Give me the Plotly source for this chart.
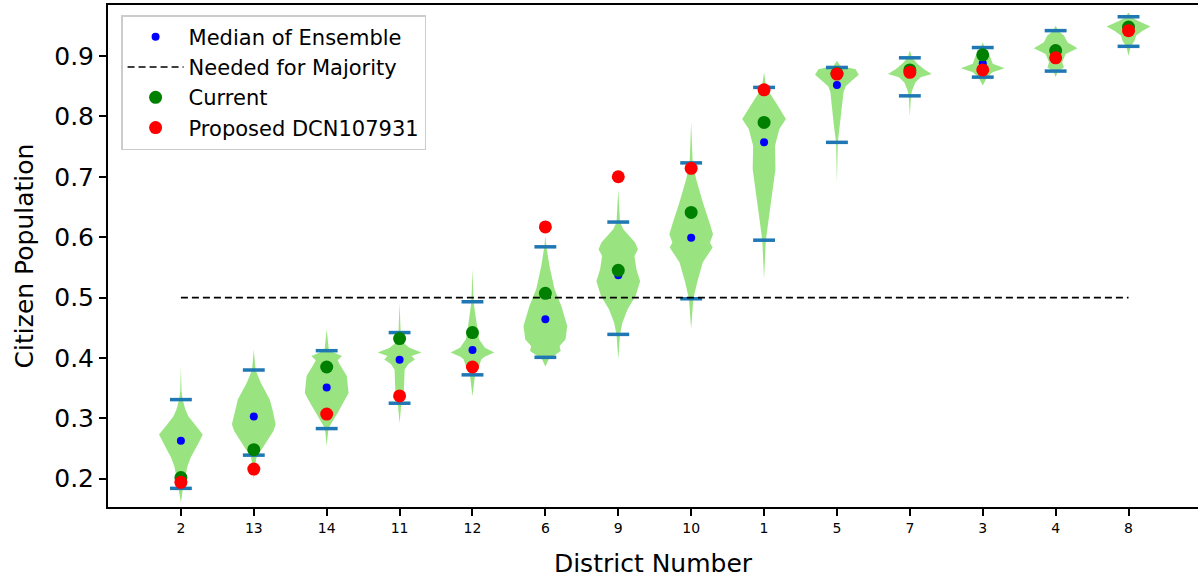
import plotly.graph_objects as go

# ---------------- data ----------------
districts = ["2", "13", "14", "11", "12", "6", "9", "10", "1", "5", "7", "3", "4", "8"]

median_ensemble = [0.263, 0.303, 0.351, 0.397, 0.413, 0.464, 0.537, 0.599, 0.757, 0.852, 0.874, 0.888, 0.910, 0.946]
current = [0.202, 0.248, 0.385, 0.432, 0.442, 0.507, 0.545, 0.641, 0.790, 0.871, 0.877, 0.902, 0.909, 0.948]
proposed = [0.194, 0.216, 0.307, 0.337, 0.385, 0.617, 0.700, 0.714, 0.844, 0.870, 0.873, 0.877, 0.897, 0.942]
ensemble_max = [0.331, 0.380, 0.412, 0.442, 0.493, 0.584, 0.625, 0.723, 0.848, 0.881, 0.897, 0.914, 0.942, 0.965]
ensemble_min = [0.184, 0.239, 0.283, 0.325, 0.372, 0.401, 0.439, 0.498, 0.595, 0.757, 0.834, 0.865, 0.875, 0.916]
majority_level = 0.5

# violin profiles (value levels and relative density, max = 1)
violin_levels = [
    [0.386, 0.345, 0.331, 0.315, 0.3035, 0.29, 0.273, 0.26, 0.248, 0.235, 0.2206, 0.1985, 0.183, 0.16],
    [0.414, 0.38, 0.359, 0.331, 0.312, 0.29, 0.279, 0.265, 0.248, 0.24, 0.22, 0.198],
    [0.447, 0.4125, 0.403, 0.396, 0.389, 0.37, 0.342, 0.326, 0.309, 0.2925, 0.283, 0.254],
    [0.4915, 0.442, 0.425, 0.417, 0.409, 0.403, 0.3975, 0.390, 0.381, 0.37, 0.348, 0.324, 0.292],
    [0.547, 0.4925, 0.475, 0.453, 0.431, 0.417, 0.409, 0.402, 0.3975, 0.386, 0.3726, 0.3367],
    [0.602, 0.584, 0.552, 0.5136, 0.486, 0.4527, 0.4307, 0.4196, 0.4113, 0.404, 0.3975, 0.386],
    [0.6794, 0.6247, 0.613, 0.591, 0.58, 0.569, 0.547, 0.527, 0.5025, 0.48, 0.4584, 0.439, 0.3975],
    [0.79, 0.7226, 0.696, 0.657, 0.624, 0.605, 0.591, 0.583, 0.558, 0.5247, 0.498, 0.4473],
    [0.873, 0.8475, 0.823, 0.7955, 0.779, 0.7513, 0.7126, 0.674, 0.635, 0.5944, 0.53],
    [0.892, 0.884, 0.878, 0.869, 0.86, 0.85, 0.84, 0.812, 0.7844, 0.757, 0.69],
    [0.909, 0.897, 0.887, 0.878, 0.870, 0.8647, 0.856, 0.8425, 0.834, 0.80],
    [0.9227, 0.913, 0.9005, 0.887, 0.8796, 0.873, 0.865, 0.851],
    [0.950, 0.9415, 0.934, 0.9227, 0.9128, 0.9033, 0.8895, 0.881, 0.8746, 0.865],
    [0.972, 0.964, 0.9585, 0.949, 0.942, 0.934, 0.925, 0.9155, 0.9005],
]
violin_density = [
    [0, 0.03, 0.08, 0.2, 0.34, 0.62, 1.0, 0.82, 0.64, 0.45, 0.3, 0.18, 0.09, 0],
    [0, 0.08, 0.32, 0.73, 0.87, 1.0, 0.9, 0.65, 0.35, 0.15, 0.05, 0],
    [0, 0.1, 0.7, 0.5, 0.6, 0.92, 1.0, 0.77, 0.5, 0.23, 0.08, 0],
    [0, 0.05, 0.17, 0.45, 1.0, 0.55, 0.7, 0.4, 0.23, 0.22, 0.2, 0.08, 0],
    [0, 0.05, 0.12, 0.2, 0.3, 0.57, 1.0, 0.55, 0.4, 0.3, 0.12, 0],
    [0, 0.05, 0.19, 0.42, 0.73, 1.0, 0.92, 0.65, 0.7, 0.4, 0.15, 0],
    [0, 0.08, 0.23, 0.77, 0.9, 0.74, 0.83, 1.0, 0.79, 0.42, 0.19, 0.08, 0],
    [0, 0.07, 0.23, 0.54, 0.84, 1.0, 0.86, 0.98, 0.53, 0.27, 0.1, 0],
    [0, 0.1, 0.54, 1.0, 0.7, 0.5, 0.52, 0.38, 0.23, 0.08, 0],
    [0, 0.15, 0.85, 1.0, 0.7, 0.4, 0.3, 0.21, 0.14, 0.04, 0],
    [0, 0.1, 0.35, 0.65, 1.0, 0.5, 0.25, 0.1, 0.05, 0],
    [0, 0.1, 0.32, 0.46, 1.0, 0.45, 0.2, 0],
    [0, 0.12, 0.38, 0.54, 1.0, 0.46, 0.3, 0.38, 0.1, 0],
    [0, 0.15, 0.42, 1.0, 0.65, 0.35, 0.27, 0.1, 0],
]

# ---------------- styling ----------------
positions = list(range(1, len(districts) + 1))
VIOLIN_HALF = 0.3
BAR_HALF = 0.15
FONT = "DejaVu Sans"
VIOLIN_COLOR = "rgb(153,228,128)"

fig = go.Figure()

# violins
for pos, levels, dens in zip(positions, violin_levels, violin_density):
    xs = [pos + VIOLIN_HALF * d for d in dens] + [pos - VIOLIN_HALF * d for d in reversed(dens)]
    ys = list(levels) + list(reversed(levels))
    fig.add_trace(go.Scatter(
        x=xs, y=ys, mode="lines", fill="toself",
        fillcolor=VIOLIN_COLOR, line=dict(width=0, color=VIOLIN_COLOR),
        hoverinfo="skip", showlegend=False,
    ))

# extrema bars
def bar_xy(vals):
    bx, by = [], []
    for p, v in zip(positions, vals):
        bx += [p - BAR_HALF, p + BAR_HALF, None]
        by += [v, v, None]
    return bx, by

for vals in (ensemble_max, ensemble_min):
    bx, by = bar_xy(vals)
    fig.add_trace(go.Scatter(x=bx, y=by, mode="lines",
                             line=dict(color="#1f77b4", width=3.5),
                             hoverinfo="skip", showlegend=False))

# median of ensemble
fig.add_trace(go.Scatter(
    x=positions, y=median_ensemble, mode="markers", name="Median of Ensemble",
    marker=dict(color="blue", size=8),
))
# majority line
fig.add_trace(go.Scatter(
    x=[positions[0], positions[-1]], y=[majority_level, majority_level], mode="lines",
    name="Needed for Majority", line=dict(color="black", width=1.7, dash="7px,4px"),
))
# current
fig.add_trace(go.Scatter(
    x=positions, y=current, mode="markers", name="Current",
    marker=dict(color="green", size=13),
))
# proposed
fig.add_trace(go.Scatter(
    x=positions, y=proposed, mode="markers", name="Proposed DCN107931",
    marker=dict(color="red", size=13),
))

fig.update_layout(
    width=1198, height=582,
    margin=dict(l=108, r=0, t=5, b=75),
    paper_bgcolor="white", plot_bgcolor="white",
    font=dict(family=FONT, color="black"),
    legend=dict(
        x=0.012, y=0.98, xanchor="left", yanchor="top",
        bgcolor="rgba(255,255,255,0.8)", bordercolor="#cccccc", borderwidth=1.5,
        font=dict(size=21, family=FONT), itemwidth=56,
    ),
    showlegend=True,
)
fig.update_xaxes(
    range=[0, 14.953], tickvals=positions, ticktext=districts,
    showgrid=False, zeroline=False,
    showline=True, linecolor="black", linewidth=2, mirror=True,
    ticks="outside", ticklen=7, tickwidth=1.7, tickcolor="black",
    tickfont=dict(size=14, family=FONT),
    title=dict(text="District Number", font=dict(size=25, family=FONT), standoff=20),
)
fig.update_yaxes(
    range=[0.15314, 0.98445], tickvals=[0.2, 0.3, 0.4, 0.5, 0.6, 0.7, 0.8, 0.9],
    ticktext=["0.2", "0.3", "0.4", "0.5", "0.6", "0.7", "0.8", "0.9"],
    showgrid=False, zeroline=False,
    showline=True, linecolor="black", linewidth=2, mirror=False,
    ticks="outside", ticklen=7, tickwidth=1.7, tickcolor="black",
    tickfont=dict(size=25, family=FONT),
    title=dict(text="Citizen Population", font=dict(size=25, family=FONT), standoff=13),
)

fig.write_html(
    "out.html",
    config={"displayModeBar": False},
    post_script="document.body.style.margin='0';document.body.style.overflow='hidden';",
)
